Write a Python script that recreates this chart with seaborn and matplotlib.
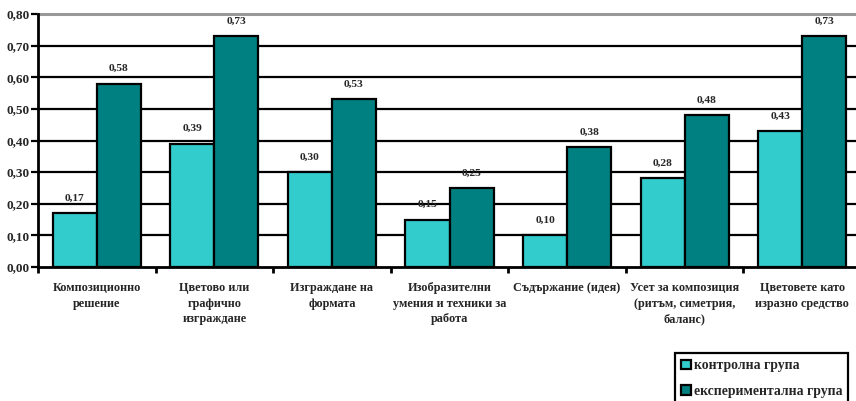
import matplotlib
matplotlib.use("Agg")
import matplotlib.pyplot as plt
import seaborn as sns
import pandas as pd
from matplotlib.ticker import FuncFormatter, FixedLocator

categories = [
    "Композиционно\nрешение",
    "Цветово или\nграфично\nизграждане",
    "Изграждане на\nформата",
    "Изобразителни\nумения и техники за\nработа",
    "Съдържание (идея)",
    "Усет за композиция\n(ритъм, симетрия,\nбаланс)",
    "Цветовете като\nизразно средство",
]
control = [0.17, 0.39, 0.30, 0.15, 0.10, 0.28, 0.43]
experimental = [0.58, 0.73, 0.53, 0.25, 0.38, 0.48, 0.73]
series_names = ["контролна група", "експериментална група"]
colors = ["#33CCCC", "#008080"]

sns.set_theme(style="white")
plt.rcParams["font.family"] = ["Liberation Serif", "DejaVu Serif"]
plt.rcParams["font.weight"] = "bold"

df = pd.DataFrame({
    "category": categories * 2,
    "value": control + experimental,
    "group": [series_names[0]] * len(categories) + [series_names[1]] * len(categories),
})

fig = plt.figure(figsize=(8.56, 4.01), dpi=100)
ax = fig.add_axes([38 / 856, 134 / 401, 823 / 856, 253 / 401])

sns.barplot(data=df, x="category", y="value", hue="group", order=categories,
            hue_order=series_names, palette=colors, saturation=1, width=0.75,
            edgecolor="black", linewidth=1.6, ax=ax, zorder=3, errorbar=None)

ax.set_xlim(-0.5, len(categories) - 0.5)
ax.set_ylim(0, 0.8)
ax.set_xlabel("")
ax.set_ylabel("")

for y in [0.1, 0.2, 0.3, 0.4, 0.5, 0.6, 0.7]:
    ax.axhline(y, color="black", lw=1.6, zorder=1)

ax.spines["right"].set_visible(False)
ax.spines["top"].set_color("#999999")
ax.spines["top"].set_linewidth(2.2)
ax.spines["left"].set_color("black")
ax.spines["left"].set_linewidth(2)
ax.spines["bottom"].set_color("black")
ax.spines["bottom"].set_linewidth(2)
ax.spines["left"].set_zorder(5)
ax.spines["bottom"].set_zorder(5)

ax.yaxis.set_major_locator(FixedLocator([i / 10 for i in range(9)]))
ax.yaxis.set_major_formatter(FuncFormatter(lambda v, p: f"{v:.2f}".replace(".", ",")))
ax.tick_params(axis="y", direction="out", length=5, width=1.6, color="black",
               labelsize=9.5, pad=1, left=True)
ax.tick_params(axis="x", which="major", length=0, labelsize=8.8, pad=11)
ax.xaxis.set_minor_locator(FixedLocator([i - 0.5 for i in range(len(categories) + 1)]))
ax.tick_params(axis="x", which="minor", bottom=True, direction="out", length=4,
               width=2, color="black")
for lab in ax.get_xticklabels():
    lab.set_fontweight("bold")
    lab.set_linespacing(1.4)
for lab in ax.get_yticklabels():
    lab.set_fontweight("bold")

for cont in ax.containers:
    for bar in cont:
        h = bar.get_height()
        ax.annotate(f"{h:.2f}".replace(".", ","),
                    (bar.get_x() + bar.get_width() / 2, h),
                    xytext=(0, 15), textcoords="offset pixels",
                    ha="center", va="center", fontsize=8.2, fontweight="bold",
                    zorder=6)

ax.get_legend().remove()
handles, labels = ax.get_legend_handles_labels()
leg = fig.legend(handles, labels, loc="upper left",
                 bbox_to_anchor=(675 / 856, 1 - 353 / 401),
                 frameon=True, fancybox=False, framealpha=1, edgecolor="black",
                 prop={"size": 9.9, "weight": "bold"},
                 handlelength=0.7, handleheight=0.7, handletextpad=0.2,
                 labelspacing=0.9, borderpad=0.45, borderaxespad=0)
leg.get_frame().set_linewidth(1.6)
for h in leg.legend_handles:
    h.set_edgecolor("black")
    h.set_linewidth(1.6)

fig.savefig("out.png", dpi=100)
